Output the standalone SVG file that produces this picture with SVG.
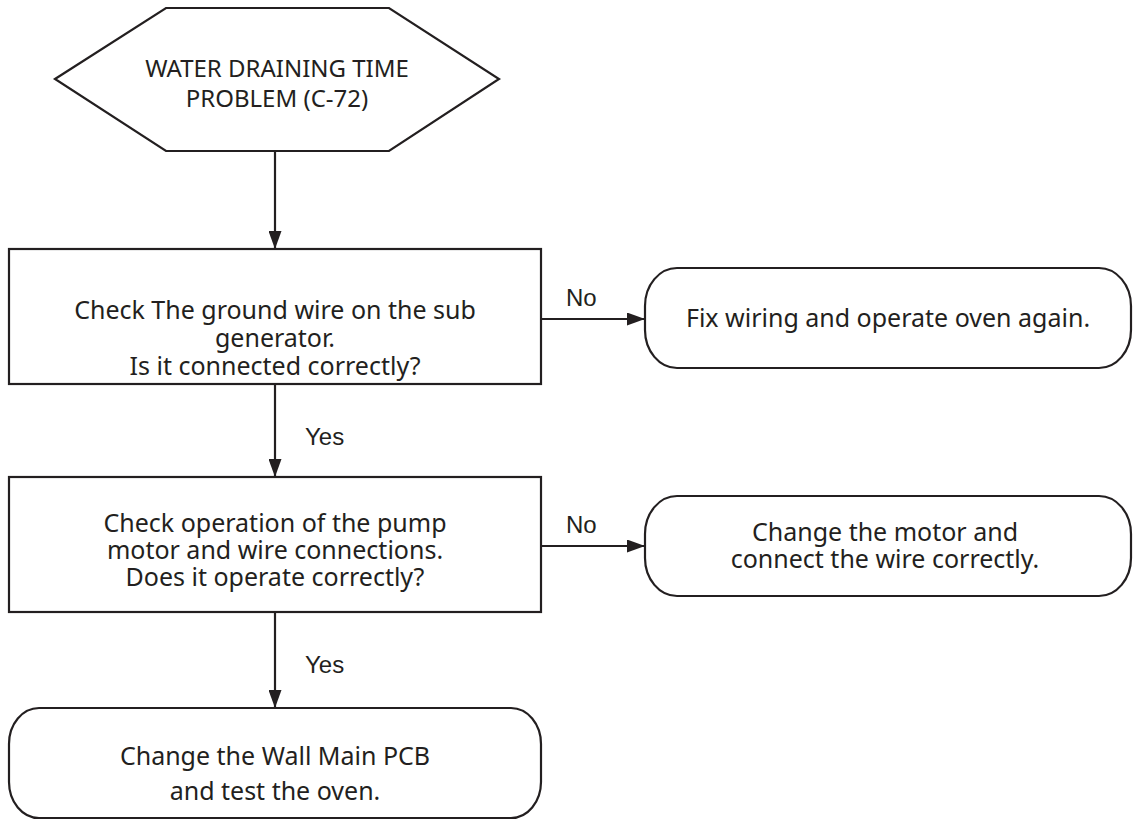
<svg xmlns="http://www.w3.org/2000/svg" width="1133" height="821" viewBox="0 0 1133 821">
<defs>
<style>
.shape{fill:#ffffff;stroke:#231f20;stroke-width:2.2}
.line{fill:none;stroke:#231f20;stroke-width:2.2}
.t{font-family:"Noto Sans","Open Sans",sans-serif;font-size:25px;fill:#231f20;text-anchor:middle}
.h{font-family:"Noto Sans","Open Sans",sans-serif;font-size:24px;fill:#231f20;text-anchor:middle}
.lbl{font-family:"Liberation Sans",Arial,sans-serif;font-size:24px;fill:#231f20}
</style>
<marker id="arr" markerUnits="userSpaceOnUse" markerWidth="18" markerHeight="13" refX="18" refY="6.5" orient="auto">
<path d="M0,0 L18,6.5 L0,13 z" fill="#231f20"/>
</marker>
</defs>
<rect width="1133" height="821" fill="#ffffff"/>
<g id="start">
<polygon class="shape" points="55,79 166,8 389,8 499,79 389,151 166,151"/>
<text class="h" x="277" y="77">WATER DRAINING TIME</text>
<text class="h" x="277" y="107">PROBLEM (C-72)</text>
</g>
<g id="check-ground">
<rect class="shape" x="9" y="249" width="532" height="135"/>
<text class="t" x="275" y="319">Check The ground wire on the sub</text>
<text class="t" x="275" y="347">generator.</text>
<text class="t" x="275" y="375">Is it connected correctly?</text>
</g>
<g id="fix-wiring">
<rect class="shape" x="645" y="268" width="486" height="100" rx="32" ry="38"/>
<text class="t" x="888" y="327">Fix wiring and operate oven again.</text>
</g>
<g id="check-pump">
<rect class="shape" x="9" y="477" width="532" height="135"/>
<text class="t" x="275" y="532">Check operation of the pump</text>
<text class="t" x="275" y="559">motor and wire connections.</text>
<text class="t" x="275" y="586">Does it operate correctly?</text>
</g>
<g id="change-motor">
<rect class="shape" x="645" y="496" width="486" height="100" rx="32" ry="38"/>
<text class="t" x="885" y="541">Change the motor and</text>
<text class="t" x="885" y="568">connect the wire correctly.</text>
</g>
<g id="change-pcb">
<rect class="shape" x="9" y="708" width="532" height="110" rx="30" ry="36"/>
<text class="t" x="275" y="765">Change the Wall Main PCB</text>
<text class="t" x="275" y="800">and test the oven.</text>
</g>
<g id="connectors">
<line class="line" x1="275" y1="151" x2="275" y2="249" marker-end="url(#arr)"/>
<line class="line" x1="541" y1="319" x2="645" y2="319" marker-end="url(#arr)"/>
<text class="lbl" x="566" y="306">No</text>
<line class="line" x1="275" y1="384" x2="275" y2="477" marker-end="url(#arr)"/>
<text class="lbl" x="305" y="445">Yes</text>
<line class="line" x1="541" y1="546" x2="645" y2="546" marker-end="url(#arr)"/>
<text class="lbl" x="566" y="533">No</text>
<line class="line" x1="275" y1="612" x2="275" y2="708" marker-end="url(#arr)"/>
<text class="lbl" x="305" y="673">Yes</text>
</g>
</svg>
